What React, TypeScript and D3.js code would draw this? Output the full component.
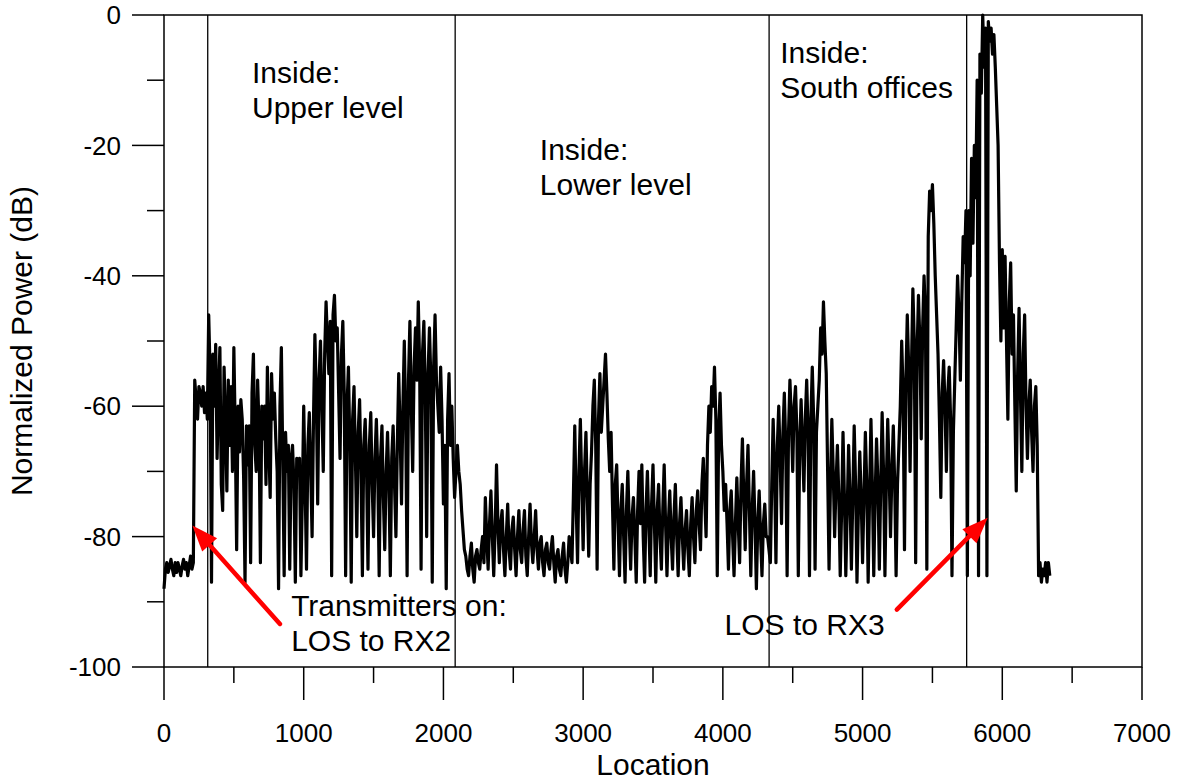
import React from 'react';
import * as d3 from 'd3';

const WIDTH = 1184;
const HEIGHT = 782;

// Axis ticks
const xMajorTicks = [0, 1000, 2000, 3000, 4000, 5000, 6000, 7000];
const xMinorTicks = [500, 1500, 2500, 3500, 4500, 5500, 6500];
const yMajorTicks = [0, -20, -40, -60, -80, -100];
const yMinorTicks = [-10, -30, -50, -70, -90];

// Locations where the measurement route passes between zones
const zoneBoundaries = [313, 2084, 4331, 5745];

// Normalized power (dB) along the route, one array per stretch:
// first location, spacing between samples, values.
const entryStart = 0;
const entryStep = 10;
const entryPower = [
  -88, -85, -84, -85.5, -84.5, -83.5, -85, -86, -84, -85.5, // 0-90
  -84, -85, -86, -84.5, -83.5, -85, -84, -86, -84.5, -83, // 100-190
  -85, -84, -56, -59, -62, -57, -58, -60, -57, -61, // 200-290
  -58, -62, // 300-310
];

const upperStart = 320;
const upperStep = 10;
const upperPower = [
  -46, -55, -87, -52, -60, -50.5, -68, -58, -51, -72, // 320-410
  -76, -54, -62, -73, -56, -66, -57, -70, -51, -64, // 420-510
  -82, -60, -67, -59, -62, -71, -87, -63, -69, -63, // 520-610
  -84, -58, -52, -66, -70, -56, -63, -84, -60, -65, // 620-710
  -60, -72, -54, -66, -74, -55, -62, -58, -65, -70, // 720-810
  -88, -60, -51, -68, -86, -64, -70, -66, -85, -68, // 820-910
  -66, -72, -87, -68, -70, -68, -86, -74, -60, -72, // 920-1010
  -85, -66, -61, -70, -80, -62, -49, -58, -75, -56, // 1020-1110
  -50, -60, -70, -52, -44, -50, -55, -47, -86, -46, // 1120-1210
  -43, -50, -48, -58, -68, -52, -47, -58, -86, -60, // 1220-1310
  -54, -66, -87, -62, -57, -68, -80, -64, -59, -70, // 1320-1410
  -86, -66, -62, -70, -85, -66, -61, -72, -80, -68, // 1420-1510
  -62, -70, -86, -68, -63, -74, -82, -70, -64, -72, // 1520-1610
  -86, -68, -63, -72, -80, -66, -55, -64, -75, -60, // 1620-1710
  -50, -62, -86, -56, -47, -60, -70, -54, -48, -56, // 1720-1810
  -44, -54, -85, -52, -47, -58, -80, -55, -48, -56, // 1820-1910
  -87, -54, -46, -56, -60, -64, -54, -62, -75, -66, // 1920-2010
  -88, -62, -55, -66, -60, -68, -74, // 2020-2080
];

const lowerStart = 2100;
const lowerStep = 10;
const lowerPower = [
  -66, -70, -72, -76, -79, -82, -83, -85, -86, -83, // 2100-2190
  -81, -85, -87, -83, -82, -84, -85, -82, -80, -84, // 2200-2290
  -74, -80, -85, -78, -73, -80, -86, -79, -69, -78, // 2300-2390
  -84, -78, -76, -82, -86, -80, -75, -82, -85, -79, // 2400-2490
  -77, -82, -86, -80, -76, -82, -84, -79, -76, -83, // 2500-2590
  -86, -80, -75, -81, -84, -80, -76, -82, -85, -81, // 2600-2690
  -80, -84, -86, -82, -81, -84, -85, -82, -80, -84, // 2700-2790
  -87, -83, -82, -85, -86, -83, -81, -85, -87, -84, // 2800-2890
  -80, -82, -84, -74, -63, -75, -84, -70, -62, -72, // 2900-2990
  -82, -70, -64, -74, -83, -72, -67, -60, -56, -66, // 3000-3090
  -85, -62, -55, -64, -60, -56, -52, -58, -65, -70, // 3100-3190
  -64, -75, -85, -72, -69, -78, -86, -76, -72, -80, // 3200-3290
  -87, -76, -70, -78, -85, -77, -74, -80, -87, -76, // 3300-3390
  -70, -78, -69, -80, -87, -76, -70, -78, -86, -75, // 3400-3490
  -69, -78, -87, -76, -72, -80, -85, -76, -69, -78, // 3500-3590
  -86, -78, -73, -80, -85, -77, -72, -80, -86, -78, // 3600-3690
  -74, -80, -85, -79, -76, -82, -86, -78, -74, -80, // 3700-3790
  -84, -76, -73, -78, -82, -72, -68, -74, -80, -66, // 3800-3890
  -60, -64, -57, -60, -54, -62, -86, -64, -58, -66, // 3900-3990
  -70, -76, -72, -78, -85, -76, -73, -80, -86, -78, // 4000-4090
  -71, -78, -84, -72, -65, -74, -82, -72, -66, -76, // 4100-4190
  -86, -76, -70, -78, -88, -78, -73, -80, -86, -78, // 4200-4290
  -75, -80, -80, // 4300-4320
];

const southStart = 4340;
const southStep = 10;
const southPower = [
  -84, -72, -62, -70, -84, -66, -60, -68, -78, -64, // 4340-4430
  -58, -66, -86, -64, -56, -62, -70, -60, -57, -64, // 4440-4530
  -86, -66, -59, -66, -73, -62, -56, -64, -86, -62, // 4540-4630
  -54, -62, -85, -64, -60, -56, -48, -52, -44, -50, // 4640-4730
  -55, -70, -85, -72, -62, -70, -80, -72, -66, -74, // 4740-4830
  -86, -76, -64, -74, -86, -76, -66, -74, -85, -74, // 4840-4930
  -63, -72, -87, -76, -67, -74, -84, -74, -64, -72, // 4940-5030
  -87, -74, -62, -72, -86, -74, -65, -72, -85, -72, // 5040-5130
  -61, -70, -86, -72, -62, -70, -80, -70, -63, -72, // 5140-5230
  -86, -72, -66, -60, -50, -58, -82, -56, -46, -54, // 5240-5330
  -70, -54, -42, -50, -84, -52, -43, -50, -65, -48, // 5340-5430
  -40, -46, -85, -34, -27, -30, -26, -32, -40, -46, // 5440-5530
  -52, -62, -74, -58, -53, -60, -70, -58, -54, -62, // 5540-5630
  -86, -64, -56, -48, -40, -46, -56, -44, -34, -38, // 5640-5730
  -30, // 5740
];

const peakStart = 5750;
const peakStep = 10;
const peakPower = [
  -86, -30, -40, -22, -35, -20, -28, -10, -86, -6, // 5750-5840
  -12, 0, -8, -2, -86, -1, -4, -2, -6, -3, // 5850-5940
  -8, -14, -20, -38, -50, -36, -48, // 5950-6010
];

const exitStart = 6020;
const exitStep = 10;
const exitPower = [
  -37, -50, -62, -44, -38, -52, -46, -60, -73, -55, // 6020-6110
  -45, -58, -70, -52, -46, -60, -68, -60, -56, -64, // 6120-6210
  -70, -60, -57, -66, -86, -84, -87, -85, -86, -84, // 6220-6310
  -87, -84, -86, // 6320-6340
];

type Sample = { location: number; power: number };

function stretch(start: number, step: number, values: number[]): Sample[] {
  return values.map((power, i) => ({ location: start + i * step, power }));
}

const samples: Sample[] = [
  ...stretch(entryStart, entryStep, entryPower),
  ...stretch(upperStart, upperStep, upperPower),
  ...stretch(lowerStart, lowerStep, lowerPower),
  ...stretch(southStart, southStep, southPower),
  ...stretch(peakStart, peakStep, peakPower),
  ...stretch(exitStart, exitStep, exitPower),
];

// Zone labels: location and dB of the first baseline, then the lines
const zoneLabels: { location: number; power: number; lines: string[] }[] = [
  { location: 630, power: -10.45, lines: ['Inside:', 'Upper level'] },
  { location: 2690, power: -22.25, lines: ['Inside:', 'Lower level'] },
  { location: 4410, power: -7.4, lines: ['Inside:', 'South offices'] },
  { location: 910, power: -92.2, lines: ['Transmitters on:', 'LOS to RX2'] },
  { location: 4012, power: -95.1, lines: ['LOS to RX3'] },
];

// Red pointers: tail and tip in data units
const pointers = [
  { from: [830, -93.4], to: [203, -78.3] },
  { from: [5245, -91.2], to: [5896, -77.1] },
];

const FONT = '"Liberation Sans", Arial, Helvetica, sans-serif';

export default function App() {
  const left = 164;
  const right = 1142;
  const top = 15;
  const bottom = 667;

  const x = d3.scaleLinear().domain([0, 7000]).range([left, right]);
  const y = d3.scaleLinear().domain([-100, 0]).range([bottom, top]);

  const line = d3
    .line<Sample>()
    .x((d) => x(d.location))
    .y((d) => y(d.power));

  const arrowHead = (fx: number, fy: number, tx: number, ty: number) => {
    const dx = tx - fx;
    const dy = ty - fy;
    const len = Math.hypot(dx, dy);
    const ux = dx / len;
    const uy = dy / len;
    const headLen = 26;
    const half = 10;
    const bx = tx - ux * headLen;
    const by = ty - uy * headLen;
    return {
      base: [bx, by],
      points: `${tx},${ty} ${bx - uy * half},${by + ux * half} ${bx + uy * half},${by - ux * half}`,
    };
  };

  return (
    <svg
      width={WIDTH}
      height={HEIGHT}
      viewBox={`0 0 ${WIDTH} ${HEIGHT}`}
      style={{ position: 'absolute', left: 0, top: 0, background: '#fff' }}
      fontFamily={FONT}
    >
      <rect x={0} y={0} width={WIDTH} height={HEIGHT} fill="#fff" />

      {/* zone separators */}
      {zoneBoundaries.map((b) => (
        <line key={b} x1={x(b)} x2={x(b)} y1={top} y2={bottom} stroke="#000" strokeWidth={1.3} />
      ))}

      {/* measured trace */}
      <path
        d={line(samples) || ''}
        fill="none"
        stroke="#000"
        strokeWidth={3.2}
        strokeLinejoin="round"
      />

      {/* frame */}
      <rect
        x={left}
        y={top}
        width={right - left}
        height={bottom - top}
        fill="none"
        stroke="#000"
        strokeWidth={1.5}
      />

      {/* y axis ticks */}
      {yMajorTicks.map((t) => (
        <g key={`ym${t}`}>
          <line x1={left - 32} x2={left} y1={y(t)} y2={y(t)} stroke="#000" strokeWidth={1.5} />
          <text x={121} y={y(t)} dy="0.35em" textAnchor="end" fontSize={26}>
            {t}
          </text>
        </g>
      ))}
      {yMinorTicks.map((t) => (
        <line key={`yn${t}`} x1={left - 17} x2={left} y1={y(t)} y2={y(t)} stroke="#000" strokeWidth={1.5} />
      ))}

      {/* x axis ticks */}
      {xMajorTicks.map((t) => (
        <g key={`xm${t}`}>
          <line x1={x(t)} x2={x(t)} y1={bottom} y2={bottom + 33} stroke="#000" strokeWidth={1.5} />
          <text x={x(t)} y={742} textAnchor="middle" fontSize={26}>
            {t}
          </text>
        </g>
      ))}
      {xMinorTicks.map((t) => (
        <line key={`xn${t}`} x1={x(t)} x2={x(t)} y1={bottom} y2={bottom + 16} stroke="#000" strokeWidth={1.5} />
      ))}

      {/* axis titles */}
      <text x={(left + right) / 2} y={775} textAnchor="middle" fontSize={30}>
        Location
      </text>
      <text
        transform={`translate(32, ${(top + bottom) / 2}) rotate(-90)`}
        textAnchor="middle"
        fontSize={30}
      >
        Normalized Power (dB)
      </text>

      {/* zone labels */}
      {zoneLabels.map((lab, i) => (
        <text key={i} x={x(lab.location)} y={y(lab.power)} fontSize={30}>
          {lab.lines.map((ln, j) => (
            <tspan key={j} x={x(lab.location)} dy={j === 0 ? 0 : 34.5}>
              {ln}
            </tspan>
          ))}
        </text>
      ))}

      {/* pointers */}
      {pointers.map((p, i) => {
        const fx = x(p.from[0]);
        const fy = y(p.from[1]);
        const tx = x(p.to[0]);
        const ty = y(p.to[1]);
        const head = arrowHead(fx, fy, tx, ty);
        return (
          <g key={i}>
            <line
              x1={fx}
              y1={fy}
              x2={head.base[0]}
              y2={head.base[1]}
              stroke="#ff0000"
              strokeWidth={4.5}
              strokeLinecap="round"
            />
            <polygon points={head.points} fill="#ff0000" />
          </g>
        );
      })}
    </svg>
  );
}
